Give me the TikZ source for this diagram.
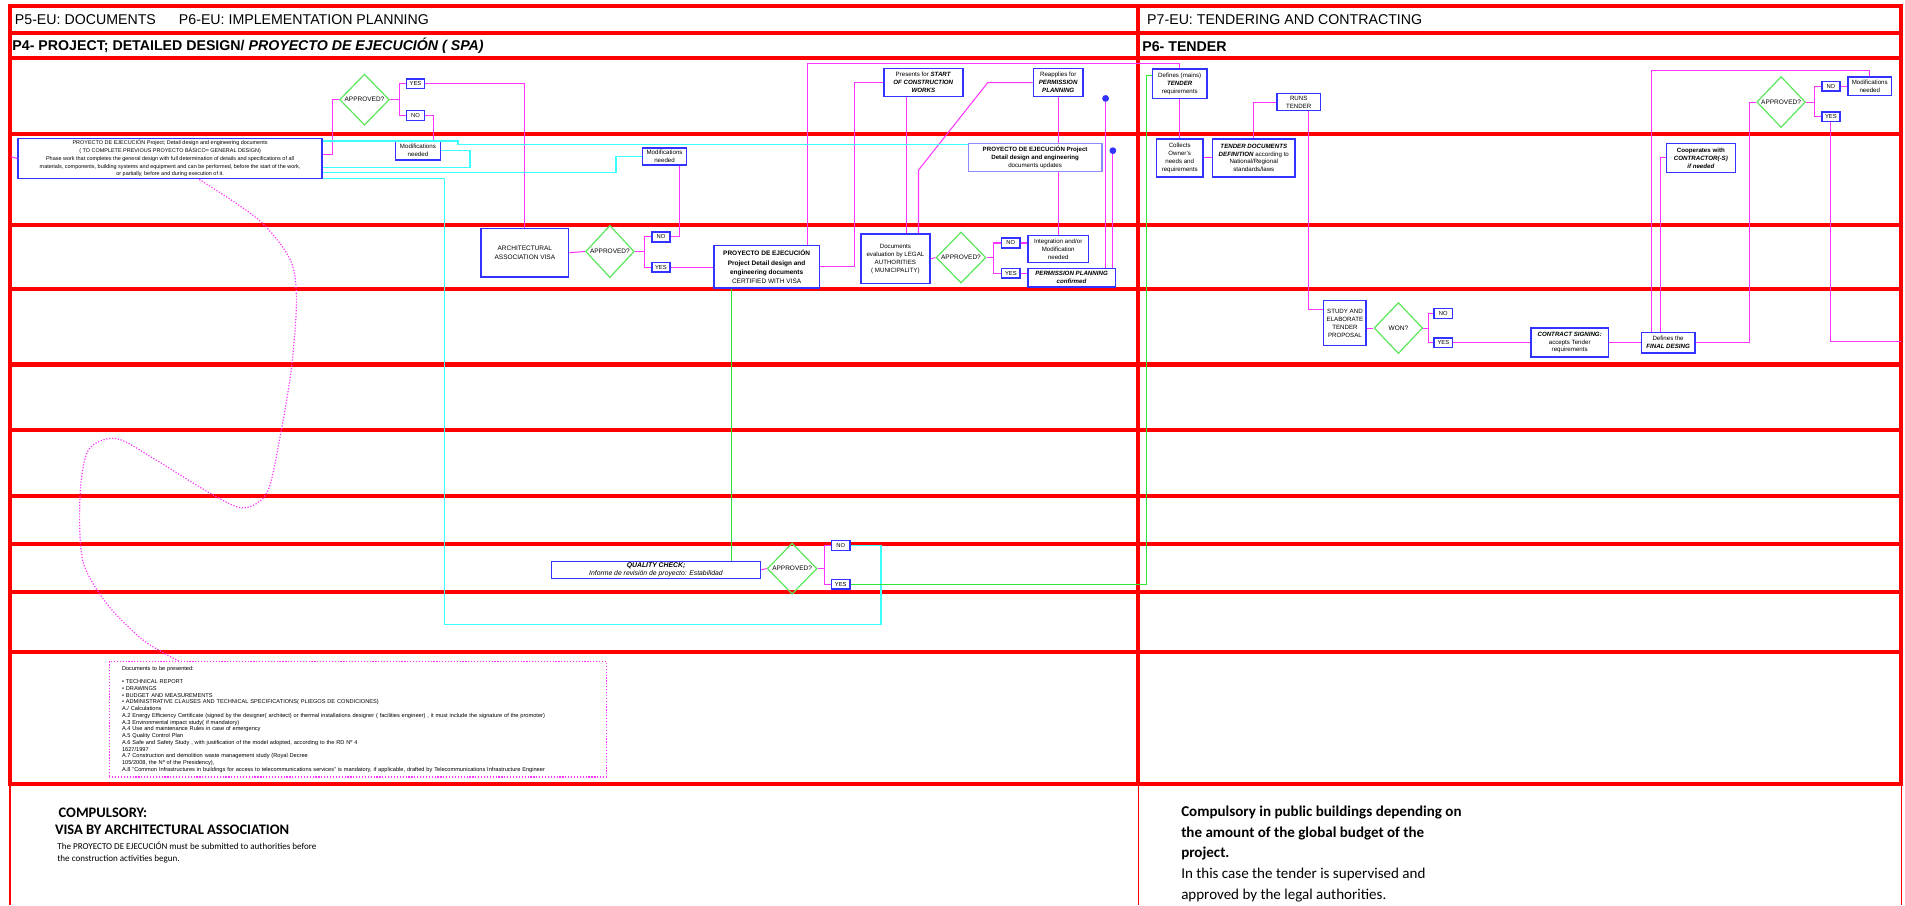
\documentclass[tikz,border=0pt]{standalone}
\usepackage{fontspec}
\setmainfont{Liberation Sans}
\newfontfamily\calfont{Carlito}
\usetikzlibrary{shapes.geometric}
\definecolor{cred}{RGB}{255,0,0}
\definecolor{cblue}{RGB}{51,51,255}
\definecolor{clightblue}{RGB}{140,140,255}
\definecolor{cdec}{RGB}{90,230,90}
\definecolor{cmag}{RGB}{255,51,255}
\definecolor{ccyan}{RGB}{60,255,255}
\definecolor{cgreen}{RGB}{51,230,51}
\begin{document}
\begin{tikzpicture}
	[x=0.025cm, y=-0.025cm,
	lane/.style = {
		draw=cred, line width=2.4pt, line cap=rect
	},
	thinlane/.style = {
		draw=cred, line width=1pt
	},
	header/.style = {
		anchor=west, inner sep=0pt,
		font=\fontsize{8.3}{10}\selectfont
	},
	box/.style = {
		draw=cblue, line width=0.9pt, fill=white,
		inner sep=0.5pt, align=center,
		font=\fontsize{3.6}{4.6}\selectfont
	},
	answer/.style = {
		box, inner sep=0pt,
		minimum width=0.375cm, minimum height=0.2cm,
		font=\fontsize{3.4}{4}\selectfont
	},
	decision/.style = {
		draw=cdec, diamond, line width=0.7pt, inner sep=0pt,
		minimum width=1.025cm, minimum height=1.05cm,
		font=\fontsize{3.8}{4.6}\selectfont
	},
	bluedot/.style = {
		fill=cblue, circle, inner sep=0pt, minimum size=0.14cm
	},
	pinkline/.style = {
		draw=cmag, line width=0.6pt
	},
	cyanline/.style = {
		draw=ccyan, line width=0.8pt
	},
	greenline/.style = {
		draw=cgreen, line width=0.7pt
	},
	dotline/.style = {
		draw=cmag, line width=0.7pt, densely dotted
	}]
	
	\useasboundingbox (0,0) rectangle (1568,745);
	
	%Draw lanes
	\foreach \y in {5,27,48,110,185,238,300,354,408,448,487,537,645}
		\draw[lane] (8,\y) -- (1565,\y);
	\foreach \x in {8,937,1565} {
		\draw[lane] (\x,5) -- (\x,645);
		\draw[thinlane] (\x,645) -- (\x,745);
	}
	
	\node[header] (h5) at (12,16) {P5-EU: DOCUMENTS};
	\node[header] (h6) at (147,16) {P6-EU: IMPLEMENTATION PLANNING};
	\node[header] (h7) at (944,16) {P7-EU: TENDERING AND CONTRACTING};
	\node[header, font=\fontsize{8.3}{9}\selectfont\bfseries] (h4) at (10,38)
		{P4- PROJECT; DETAILED DESIGN/ \textit{PROYECTO DE EJECUCIÓN ( SPA)}};
	\node[header, font=\fontsize{8.3}{9}\selectfont\bfseries] (h6t) at (940,38) {P6- TENDER};
	
	%Draw nodes: documents and implementation planning
	\node[box, minimum width=6.25cm, minimum height=0.825cm, font=\fontsize{3.2}{4.5}\selectfont] at (140,130.5) (pe)
		{PROYECTO DE EJECUCIÓN Project; Detail design and engineering documents\\
		( TO COMPLETE PREVIOUS PROYECTO BÁSICO= GENERAL DESIGN)\\
		Phase work that completes the general design with full determination of details and specifications of all\\
		materials, components, building systems and equipment and can be performed, before the start of the work,\\
		or partially, before and during execution of it.};
	\node[decision] at (300,82) (ap1) {APPROVED?};
	\node[answer] at (342,69) (yes1) {YES};
	\node[answer] at (342,95) (no1) {NO};
	\node[box, minimum width=0.925cm, minimum height=0.375cm] at (344,124) (mod1) {Modifications\\needed};
	\node[box, minimum width=0.9cm, minimum height=0.35cm] at (547,129) (mod2) {Modifications\\needed};
	
	\node[box, minimum width=1.8cm, minimum height=1cm, font=\fontsize{3.8}{5}\selectfont] at (432,208) (arch)
		{ARCHITECTURAL\\ASSOCIATION VISA};
	\node[decision, minimum width=1cm, minimum height=1.075cm] at (502,207) (ap2) {APPROVED?};
	\node[answer] at (544,195) (no2) {NO};
	\node[answer] at (544,220) (yes2) {YES};
	\node[box, minimum width=2.175cm, minimum height=0.875cm, font=\fontsize{3.8}{5.3}\selectfont] at (631,219.5) (cert)
		{\textbf{PROYECTO DE EJECUCIÓN}\\\textbf{Project Detail design and}\\\textbf{engineering documents}\\CERTIFIED WITH VISA};
	
	\node[box, minimum width=1.625cm, minimum height=0.575cm] at (760,68) (pres)
		{Presents for \textbf{\textit{START}}\\\textbf{\textit{OF CONSTRUCTION}}\\\textbf{\textit{WORKS}}};
	\node[box, minimum width=1.025cm, minimum height=0.575cm] at (871,68) (reap)
		{Reapplies for\\\textbf{\textit{PERMISSION}}\\\textbf{\textit{PLANNING}}};
	\node[box, draw=clightblue, minimum width=2.75cm, minimum height=0.575cm, font=\fontsize{3.6}{4.5}\selectfont] at (852,129.5) (upd)
		{\textbf{PROYECTO DE EJECUCIÓN Project}\\\textbf{Detail design and engineering}\\documents updates};
	\node[bluedot] at (910,81) (dot1) {};
	\node[bluedot] at (916,124) (dot2) {};
	
	\node[box, minimum width=1.425cm, minimum height=1.025cm] at (737,213) (eval)
		{Documents\\evaluation by LEGAL\\AUTHORITIES\\( MUNICIPALITY)};
	\node[decision] at (791,212) (ap3) {APPROVED?};
	\node[answer] at (832,200) (no3) {NO};
	\node[answer] at (832,225) (yes3) {YES};
	\node[box, minimum width=1.25cm, minimum height=0.55cm] at (871,205) (integ)
		{Integration and/or\\Modification\\needed};
	\node[box, minimum width=1.8cm, minimum height=0.375cm] at (882,228.5) (perm)
		{\textbf{\textit{PERMISSION PLANNING}}\\\textbf{\textit{confirmed}}};
	
	\node[box, minimum width=4.3cm, minimum height=0.35cm, font=\fontsize{4}{4.6}\selectfont] at (540,469) (qc)
		{\textbf{\textit{QUALITY CHECK;}}\\\textit{Informe de revisión de proyecto: Estabilidad}};
	\node[decision] at (652,468) (ap4) {APPROVED?};
	\node[answer] at (692,449) (no4) {NO};
	\node[answer] at (692,481) (yes4) {YES};
	
	\node[draw=cmag, densely dotted, line width=0.7pt, minimum width=10.225cm, minimum height=2.375cm,
		text width=9.7cm, align=left, inner sep=1pt, font=\fontsize{3.3}{3.95}\selectfont] at (294.5,592) (docs)
		{Documents to be presented:\\[3.9pt]
		• TECHNICAL REPORT\\
		• DRAWINGS\\
		• BUDGET AND MEASUREMENTS\\
		• ADMINISTRATIVE CLAUSES AND TECHNICAL SPECIFICATIONS( PLIEGOS DE CONDICIONES)\\
		A./ Calculations\\
		A.2 Energy Efficiency Certificate (signed by the designer( architect) or thermal installations designer ( facilities engineer) , it must include the signature of the promoter)\\
		A.3 Environmental impact study( if mandatory)\\
		A.4 Use and maintenance Rules in case of emergency\\
		A.5 Quality Control Plan\\
		A.6 Safe and Safety Study , with justification of the model adopted, according to the RD Nº 4\\
		1627/1997\\
		A.7 Construction and demolition waste management study (Royal Decree\\
		105/2008, the Nº of the Presidency),\\
		A.8 "Common Infrastructures in buildings for access to telecommunications services" is mandatory, if applicable, drafted by Telecommunications Infrastructure Engineer};
	
	%Draw nodes: tender
	\node[box, minimum width=1.125cm, minimum height=0.6cm] at (971,69) (defn)
		{Defines (mains)\\\textbf{\textit{TENDER}}\\requirements};
	\node[box, minimum width=0.95cm, minimum height=0.775cm] at (971,130) (coll)
		{Collects\\Owner's\\needs and\\requirements};
	\node[box, minimum width=1.7cm, minimum height=0.775cm] at (1032,130) (tdd)
		{\textbf{\textit{TENDER DOCUMENTS}}\\\textbf{\textit{DEFINITION}} according to\\National/Regional\\standards/laws};
	\node[box, minimum width=0.9cm, minimum height=0.35cm] at (1069,84) (runs) {RUNS\\TENDER};
	\node[box, minimum width=0.875cm, minimum height=0.925cm] at (1107,266) (study)
		{STUDY AND\\ELABORATE\\TENDER\\PROPOSAL};
	\node[decision, minimum width=1cm] at (1151,270) (won) {WON?};
	\node[answer] at (1188,258) (no5) {NO};
	\node[answer] at (1188,282) (yes5) {YES};
	\node[box, minimum width=1.6cm, minimum height=0.6cm] at (1292,282) (contr)
		{\textbf{\textit{CONTRACT SIGNING:}}\\accepts Tender\\requirements};
	\node[box, minimum width=1.1cm, minimum height=0.425cm] at (1373,282) (final)
		{Defines the\\\textbf{\textit{FINAL DESING}}};
	\node[box, minimum width=1.425cm, minimum height=0.6cm] at (1400,130) (coop)
		{\textbf{Cooperates with}\\\textbf{\textit{CONTRACTOR(-S)}}\\\textbf{\textit{if needed}}};
	\node[decision, minimum width=1cm] at (1466,84) (ap5) {APPROVED?};
	\node[answer] at (1507,71) (no6) {NO};
	\node[answer] at (1507,96) (yes6) {YES};
	\node[box, minimum width=0.9cm, minimum height=0.375cm] at (1539,71) (mod3) {Modifications\\needed};
	
	%Bottom notes
	\node[anchor=west, inner sep=0pt, font=\calfont\fontsize{8.5}{10}\selectfont\bfseries] at (48,669) (n1) {COMPULSORY:};
	\node[anchor=west, inner sep=0pt, font=\calfont\fontsize{8.5}{10}\selectfont\bfseries] at (45,683) (n2) {VISA BY ARCHITECTURAL ASSOCIATION};
	\node[anchor=north west, inner sep=0pt, align=left, font=\calfont\fontsize{5.3}{7}\selectfont] at (47,693) (n3)
		{The PROYECTO DE EJECUCIÓN must be submitted to authorities before\\the construction activities begun.};
	\node[anchor=north west, inner sep=0pt, align=left, font=\calfont\fontsize{8.8}{12.1}\selectfont] at (972,663) (n4)
		{\textbf{Compulsory in public buildings depending on}\\
		\textbf{the amount of the global budget of the}\\
		\textbf{project.}\\
		In this case the tender is supervised and\\
		approved by the legal authorities.};
	
	%Waypoints
	\coordinate (k1) at (274,127);
	\coordinate (k2) at (665,52);
	\coordinate (k3) at (703,150);
	\coordinate (k4) at (746,0);
	\coordinate (k5) at (756,140);
	\coordinate (k6) at (813,68);
	\coordinate (k7) at (1077,255);
	\coordinate (k8) at (1359,58);
	\coordinate (k9) at (1367,129);
	\coordinate (k10) at (1440,0);
	\coordinate (k11) at (1565,281);
	\coordinate (k12) at (9,129);
	\coordinate (c1) at (377,116);
	\coordinate (c2) at (377,119);
	\coordinate (c3) at (387,138);
	\coordinate (c4) at (507,142);
	\coordinate (c5) at (366,147);
	\coordinate (c6) at (725,514);
	\coordinate (g1) at (602,0);
	\coordinate (g2) at (944,62);
	\coordinate (d1) at (164,0);
	\coordinate (d2) at (147,0);
	\coordinate (ds) at (pe.south -| d1);
	\coordinate (de) at (docs.north -| d2);
	
	%Draw magenta wires
	\draw[pinkline] (k12) -- (pe.west);
	\draw[pinkline] (pe.east |- k1) -- (k1) |- (ap1.west);
	\draw[pinkline] (ap1.east) -- ++(8,0) |- (yes1.west);
	\draw[pinkline] (ap1.east) -- ++(8,0) |- (no1.west);
	\draw[pinkline] (yes1.east) -| (arch.north);
	\draw[pinkline] (no1.east) -| ([xshift=-0.15cm]mod1.north east);
	\draw[pinkline] (arch.east) -- (ap2.west);
	\draw[pinkline] (ap2.east) -- ++(8,0) |- (no2.west);
	\draw[pinkline] (ap2.east) -- ++(8,0) |- (yes2.west);
	\draw[pinkline] (no2.east) -| ([xshift=-0.15cm]mod2.south east);
	\draw[pinkline] (yes2.east) -- (cert.west |- yes2.east);
	\draw[pinkline] (k2 |- cert.north) -- (k2) -| (defn.north);
	\draw[pinkline] (cert.east) -| (k3) |- (pres.west);
	\draw[pinkline] (k4 |- pres.south) -- (k4 |- eval.north);
	\draw[pinkline] (k5 |- eval.north) -- (k5) -- (k6) -- (reap.west);
	\draw[pinkline] (reap.south) -- (reap.south |- upd.north);
	\draw[pinkline] (integ.north |- upd.south) -- (integ.north);
	\draw[pinkline] (dot1) -- (dot1 |- perm.north);
	\draw[pinkline] (dot2) -- (dot2 |- perm.north);
	\draw[pinkline] (eval.east) -- (ap3.west);
	\draw[pinkline] (ap3.east) -- ++(6,0) |- (no3.west);
	\draw[pinkline] (ap3.east) -- ++(6,0) |- (yes3.west);
	\draw[pinkline] (no3.east) -- (integ.west |- no3.east);
	\draw[pinkline] (yes3.east) -- (perm.west |- yes3.east);
	\draw[pinkline] (qc.east) -- (ap4.west);
	\draw[pinkline] (ap4.east) -- ++(6,0) |- (no4.west);
	\draw[pinkline] (ap4.east) -- ++(6,0) |- (yes4.west);
	
	\draw[pinkline] (defn.south) -- (coll.north);
	\draw[pinkline] (coll.east) -- (tdd.west);
	\draw[pinkline] (tdd.north) |- (runs.west);
	\draw[pinkline] (k7 |- runs.south) -- (k7) -- (study.west |- k7);
	\draw[pinkline] (study.east |- won.west) -- (won.west);
	\draw[pinkline] (won.east) -- ++(4,0) |- (no5.west);
	\draw[pinkline] (won.east) -- ++(4,0) |- (yes5.west);
	\draw[pinkline] (yes5.east) -- (contr.west);
	\draw[pinkline] (contr.east) -- (final.west);
	\draw[pinkline] (k8 |- final.north) -- (k8) -| (mod3.north);
	\draw[pinkline] (k9 |- final.north) |- (coop.west);
	\draw[pinkline] (final.east) -- (k10 |- final.east) |- (ap5.west);
	\draw[pinkline] (ap5.east) -- ++(7,0) |- (no6.west);
	\draw[pinkline] (ap5.east) -- ++(7,0) |- (yes6.west);
	\draw[pinkline] (no6.east) -- (mod3.west);
	\draw[pinkline] (yes6.south) |- (k11);
	
	%Draw cyan wires
	\draw[cyanline] (pe.east |- c1) -- (c1) -- (c2) -- (c2 -| upd.west);
	\draw[cyanline] (mod1.east) -| (c3) -- (c3 -| pe.east);
	\draw[cyanline] (c4 -| pe.east) -- (c4) |- (mod2.west);
	\draw[cyanline] (c5 -| pe.east) -- (c5) |- (c6) |- (no4.east);
	
	%Draw green wires
	\draw[greenline] (g1 |- cert.south) -- (g1 |- qc.north);
	\draw[greenline] (yes4.east) -| (g2) -- (defn.west |- g2);
	
	%Dotted link to document list
	\draw[dotline] plot[smooth] coordinates {(ds) (213,181) (239,214) (244,247) (240,302) (231,357)
		(220,405) (200,418) (173,406) (129,379) (96,361) (73,370) (66,406) (68,461) (88,497) (118,527) (de)};
	
\end{tikzpicture}
\end{document}
